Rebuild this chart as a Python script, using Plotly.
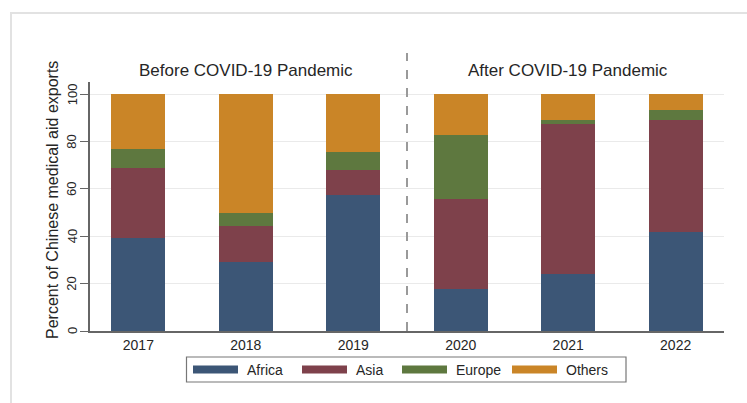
import plotly.graph_objects as go

# Share of Chinese medical aid exports by destination region (percent)
years = ["2017", "2018", "2019", "2020", "2021", "2022"]
regions = ["Africa", "Asia", "Europe", "Others"]
africa = [39.5, 29.0, 57.4, 17.6, 23.9, 41.9]
asia = [29.5, 15.4, 10.5, 38.1, 63.4, 47.1]
europe = [8.0, 5.3, 7.7, 27.0, 2.0, 4.2]
others = [23.0, 50.3, 24.4, 17.3, 10.7, 6.8]
series = [africa, asia, europe, others]
colors = ["#3c5676", "#7e414b", "#5e783f", "#ca8527"]
period_titles = ["Before COVID-19 Pandemic", "After COVID-19 Pandemic"]
y_ticks = [0, 20, 40, 60, 80, 100]

W, H = 747, 403
ML, MR, MT, MB = 90, 23, 82, 72
PW, PH = W - ML - MR, H - MT - MB


def px(xp):
    return (xp - ML) / PW


def py(yp):
    return (H - MB - yp) / PH


FONT = "Liberation Sans, Arial, sans-serif"
TXT = "#262626"

fig = go.Figure()
for name, vals, col in zip(regions, series, colors):
    fig.add_trace(go.Bar(x=list(range(len(years))), y=vals, name=name,
                         marker=dict(color=col, line=dict(width=0)),
                         showlegend=False))

shapes = []
annotations = []


def label(x, y, text, size, xref="paper", yref="paper", angle=0, xanchor="center"):
    annotations.append(dict(x=x, y=y, xref=xref, yref=yref, text=text,
                            showarrow=False, textangle=angle,
                            xanchor=xanchor, yanchor="middle",
                            font=dict(family=FONT, size=size, color=TXT)))


# outer graph region frame (left and top edges)
shapes.append(dict(type="path", xref="paper", yref="paper",
                   path=f"M {px(11)} {py(410)} L {px(11)} {py(13)} L {px(760)} {py(13)}",
                   line=dict(color="#e2e2e2", width=2)))

# divider between the two periods
shapes.append(dict(type="line", xref="x", yref="paper", x0=2.5, x1=2.5,
                   y0=0, y1=py(53), line=dict(color="#9a9a9a", width=2, dash="dash")))

# period headings
for i, t in enumerate(period_titles):
    label(1 + 3 * i, py(71), t, 17, xref="x")

# y tick labels, rotated
for v in y_ticks:
    label(px(72), v, str(v), 13, yref="y", angle=-90)

# y-axis title
label(px(52), py(200), "Percent of Chinese medical aid exports", 16, angle=-90)

# legend box with wide swatches
shapes.append(dict(type="rect", xref="paper", yref="paper",
                   x0=px(186.5), x1=px(626), y0=py(382), y1=py(357),
                   line=dict(color="#777777", width=1.2), fillcolor="white"))
sw_left = [193, 302, 402, 512]
for name, col, x0 in zip(regions, colors, sw_left):
    shapes.append(dict(type="rect", xref="paper", yref="paper",
                       x0=px(x0), x1=px(x0 + 45), y0=py(373.5), y1=py(365.5),
                       line=dict(width=0), fillcolor=col))
    label(px(x0 + 52), py(369.5), name, 14, xanchor="left")

fig.update_layout(
    barmode="stack",
    bargap=0.5,
    width=W, height=H,
    margin=dict(l=ML, r=MR, t=MT, b=MB),
    paper_bgcolor="white",
    plot_bgcolor="white",
    shapes=shapes,
    annotations=annotations,
    xaxis=dict(range=[-0.45, 5.45], tickmode="array",
               tickvals=list(range(len(years))), ticktext=years,
               showgrid=False, zeroline=False, showline=True,
               linecolor="#666666", linewidth=1.5, ticks="",
               tickfont=dict(family=FONT, size=14, color=TXT)),
    yaxis=dict(range=[0, 105.2], tickmode="array", tickvals=y_ticks,
               showticklabels=False,
               showgrid=True, gridcolor="#eaeaea", gridwidth=1,
               zeroline=False, showline=True, linecolor="#666666",
               linewidth=1.5, ticks="outside", ticklen=8, tickcolor="#666666",
               tickwidth=1.2),
    font=dict(family=FONT, color=TXT),
)

fig.write_html("out.html")
